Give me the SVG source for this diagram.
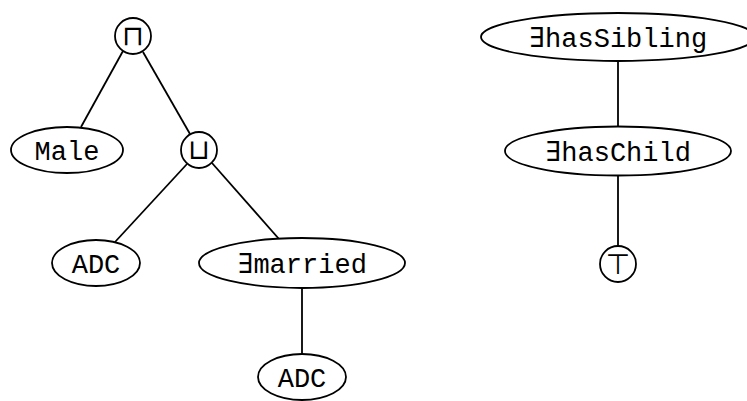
<svg xmlns="http://www.w3.org/2000/svg" width="747" height="401" viewBox="0 0 747 401">
<style>
.n{fill:#fff;stroke:#000;stroke-width:1.8}
.t{font-family:"Liberation Mono","DejaVu Sans Mono",monospace;font-size:27px;text-anchor:middle;fill:#000}
.s{font-family:"DejaVu Sans",sans-serif;font-size:28px;text-anchor:middle;fill:#000}
.e{stroke:#000;stroke-width:1.8;fill:none}
</style>
<rect width="747" height="401" fill="#fff"/>
<g id="edges">
<line class="e" x1="123" y1="51" x2="81" y2="127"/>
<line class="e" x1="143" y1="52" x2="190" y2="134"/>
<line class="e" x1="187" y1="164" x2="115" y2="242"/>
<line class="e" x1="212" y1="163" x2="279" y2="239"/>
<line class="e" x1="302" y1="288" x2="302" y2="354"/>
<line class="e" x1="618" y1="61" x2="618" y2="126"/>
<line class="e" x1="618" y1="175" x2="618" y2="246"/>
</g>
<g id="and"><circle class="n" cx="133" cy="36" r="18"/><text class="s" x="133" y="45">⊓</text></g>
<g id="male"><ellipse class="n" cx="67" cy="150" rx="56" ry="23"/><text class="t" x="67" y="160">Male</text></g>
<g id="or"><circle class="n" cx="199" cy="150" r="18"/><text class="s" x="199" y="159">⊔</text></g>
<g id="adc1"><ellipse class="n" cx="96" cy="263" rx="44" ry="23"/><text class="t" x="96" y="273">ADC</text></g>
<g id="married"><ellipse class="n" cx="302" cy="263" rx="103" ry="25"/><text class="t" x="302" y="273">∃married</text></g>
<g id="adc2"><ellipse class="n" cx="302" cy="377" rx="44" ry="23"/><text class="t" x="302" y="387">ADC</text></g>
<g id="hasSibling"><ellipse class="n" cx="618" cy="37" rx="137" ry="24"/><text class="t" x="618" y="47">∃hasSibling</text></g>
<g id="hasChild"><ellipse class="n" cx="618" cy="151" rx="113" ry="24.5"/><text class="t" x="618" y="161">∃hasChild</text></g>
<g id="top"><circle class="n" cx="618" cy="264" r="18"/><text class="s" x="618" y="274">⊤</text></g>
</svg>
